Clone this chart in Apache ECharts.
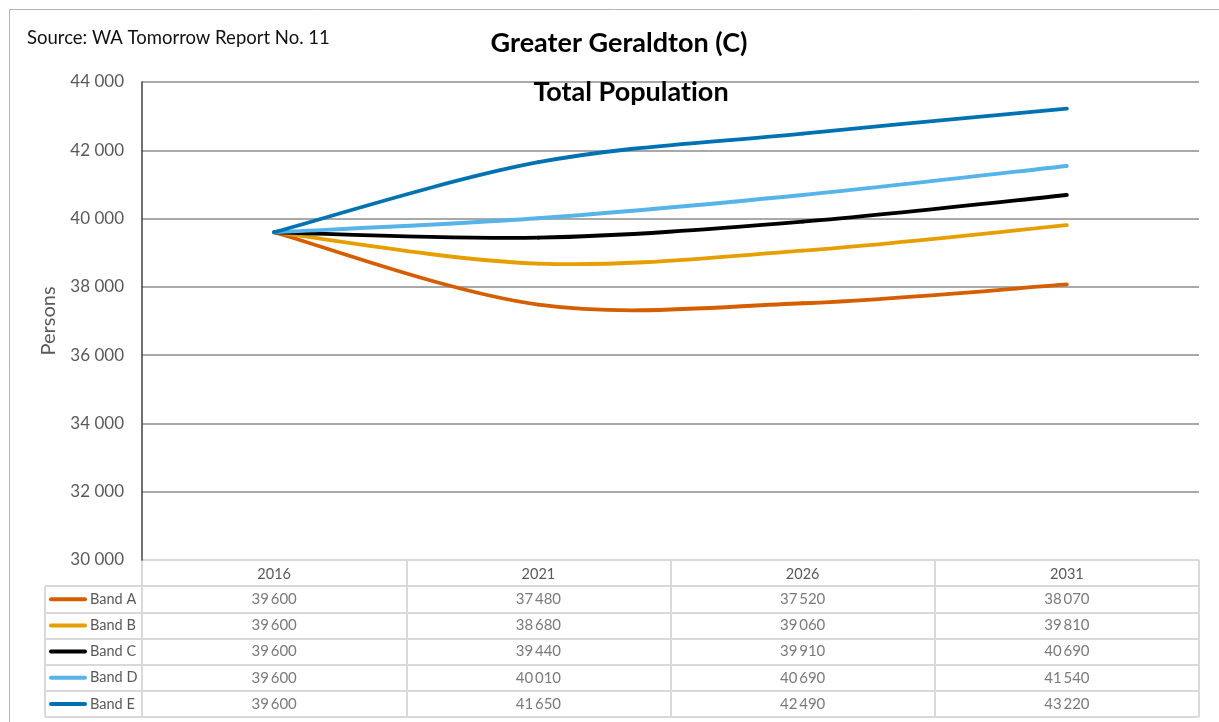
<!DOCTYPE html>
<html>
<head>
<meta charset="utf-8">
<script src="https://cdn.jsdelivr.net/npm/echarts@6/dist/echarts.min.js"></script>
<style>
  html, body { margin: 0; padding: 0; background: #fff; }
  #chart { width: 1219px; height: 722px; }
</style>
</head>
<body>
<div id="chart"></div>
<script>
// Projection years and bands (persons)
const years = ['2016', '2021', '2026', '2031'];
const bandNames = ['Band A', 'Band B', 'Band C', 'Band D', 'Band E'];
const bandA = [39600, 37480, 37520, 38070];
const bandB = [39600, 38680, 39060, 39810];
const bandC = [39600, 39440, 39910, 40690];
const bandD = [39600, 40010, 40690, 41540];
const bandE = [39600, 41650, 42490, 43220];
const bandColors = ['#D55E00', '#E69F00', '#000000', '#56B4E9', '#0072B2'];
const yMin = 30000, yMax = 44000, yStep = 2000;

const bands = [bandA, bandB, bandC, bandD, bandE];
const FONT = 'Lato, "Liberation Sans", sans-serif';
const TEXT_GREY = '#595959';

function groupDigits(v, sep) {
  return String(v).replace(/\B(?=(\d{3})+(?!\d))/g, sep);
}

// layout of plot and data table
const plotLeft = 142, plotRight = 20, plotTop = 82;
const tableTop = 560, tableH = 157;
const rowH = tableH / 6;
const legendColLeft = 45;

const chart = echarts.init(document.getElementById('chart'), null, { renderer: 'canvas' });

const rich = { t: { fontFamily: FONT, fontSize: 14.5, color: TEXT_GREY, padding: [0, 0, 0, 3] } };
bandColors.forEach((c, i) => {
  rich['s' + i] = { width: 38, height: 4, backgroundColor: c, borderRadius: 2 };
});

const gridLineColors = [];
for (let v = yMin; v <= yMax; v += yStep) gridLineColors.push(v === yMin ? 'rgba(0,0,0,0)' : '#8c8c8c');

const tableCells = [];
bands.forEach((vals, b) => {
  vals.forEach((v, i) => tableCells.push([years[i], bandNames[b], v]));
});

// Smoothed line: each item draws the cubic segment to the next point,
// control points taken Catmull-Rom style from the neighbouring points.
function smoothSeries(vals, b) {
  return {
    name: bandNames[b], type: 'custom', xAxisIndex: 0, yAxisIndex: 0,
    coordinateSystem: 'cartesian2d', silent: true, z: 3 + b,
    data: vals.map((v, i) => [i, v]),
    renderItem: function (params, api) {
      const i = params.dataIndex;
      const n = vals.length;
      if (i >= n - 1) return { type: 'group', children: [] };
      const p = k => api.coord([Math.max(0, Math.min(n - 1, k)), vals[Math.max(0, Math.min(n - 1, k))]]);
      const p0 = p(i - 1), p1 = p(i), p2 = p(i + 1), p3 = p(i + 2);
      return {
        type: 'bezierCurve',
        shape: {
          x1: p1[0], y1: p1[1], x2: p2[0], y2: p2[1],
          cpx1: p1[0] + (p2[0] - p0[0]) / 6, cpy1: p1[1] + (p2[1] - p0[1]) / 6,
          cpx2: p2[0] - (p3[0] - p1[0]) / 6, cpy2: p2[1] - (p3[1] - p1[1]) / 6
        },
        style: { stroke: bandColors[b], lineWidth: 3.8, fill: null, lineCap: 'round' }
      };
    }
  };
}

const option = {
  backgroundColor: '#fff',
  animation: false,
  title: [
    { text: 'Source: WA Tomorrow Report No. 11', left: 22, top: 24,
      textStyle: { fontFamily: FONT, fontSize: 18.5, fontWeight: 'normal', color: '#111' } },
    { text: 'Greater Geraldton (C)', left: 614, top: 25, textAlign: 'center',
      textStyle: { fontFamily: FONT, fontSize: 27, fontWeight: 'bold', color: '#000' } },
    { text: 'Total Populat\u200Cion', left: 626, top: 74, textAlign: 'center',
      textStyle: { fontFamily: FONT, fontSize: 27, fontWeight: 'bold', color: '#000' } }
  ],
  grid: [
    { left: plotLeft, right: plotRight, top: plotTop, bottom: 722 - tableTop },
    { left: plotLeft, right: plotRight, top: tableTop, height: tableH }
  ],
  xAxis: [
    { type: 'category', gridIndex: 0, data: years, boundaryGap: true,
      axisLine: { show: false }, axisTick: { show: false }, axisLabel: { show: false } },
    { type: 'category', gridIndex: 1, data: years, boundaryGap: true, position: 'top',
      axisLine: { show: false }, axisTick: { show: false },
      axisLabel: { inside: true, margin: 7, fontFamily: FONT, fontSize: 14.5, color: TEXT_GREY },
      splitLine: { show: true, lineStyle: { color: '#d9d9d9', width: 2 } } }
  ],
  yAxis: [
    { type: 'value', gridIndex: 0, min: yMin, max: yMax, interval: yStep,
      name: 'Persons', nameLocation: 'middle', nameGap: 83, nameRotate: 90,
      nameTextStyle: { fontFamily: FONT, fontSize: 20, color: TEXT_GREY },
      axisLine: { show: true, lineStyle: { color: '#404040', width: 1.5 } },
      axisTick: { show: false },
      axisLabel: { margin: 18, fontFamily: FONT, fontSize: 17, color: TEXT_GREY,
        formatter: v => groupDigits(v, ' ') },
      splitLine: { show: true, lineStyle: { color: gridLineColors, width: 1.5 } } },
    { type: 'category', gridIndex: 1, inverse: true, data: [''].concat(bandNames),
      axisLine: { show: false },
      axisTick: { show: true, length: plotLeft - legendColLeft, interval: i => i > 0,
        lineStyle: { color: '#d9d9d9', width: 2 } },
      axisLabel: { align: 'left', margin: plotLeft - 49, interval: 0, rich: rich,
        formatter: (v, i) => v ? '{s' + (i - 1) + '|}{t|' + v + '}' : '' },
      splitLine: { show: true, lineStyle: { color: '#d9d9d9', width: 2 } } }
  ],
  graphic: [
    { type: 'rect', silent: true, z: -1,
      shape: { x: 9.5, y: 9.5, width: 1400, height: 900 },
      style: { fill: 'none', stroke: '#b4b4b4', lineWidth: 1 } },
    { type: 'line', silent: true,
      shape: { x1: legendColLeft, y1: tableTop + rowH, x2: legendColLeft, y2: tableTop + tableH },
      style: { stroke: '#d9d9d9', lineWidth: 2 } }
  ],
  series: bands.map(smoothSeries).concat([{
    type: 'scatter', xAxisIndex: 1, yAxisIndex: 1, data: tableCells,
    symbolSize: 1, itemStyle: { color: 'rgba(0,0,0,0)' }, silent: true,
    label: { show: true, position: 'inside', fontFamily: FONT, fontSize: 15, color: TEXT_GREY,
      formatter: p => groupDigits(p.value[2], '\u2009') }
  }])
};

chart.setOption(option);
</script>
</body>
</html>
